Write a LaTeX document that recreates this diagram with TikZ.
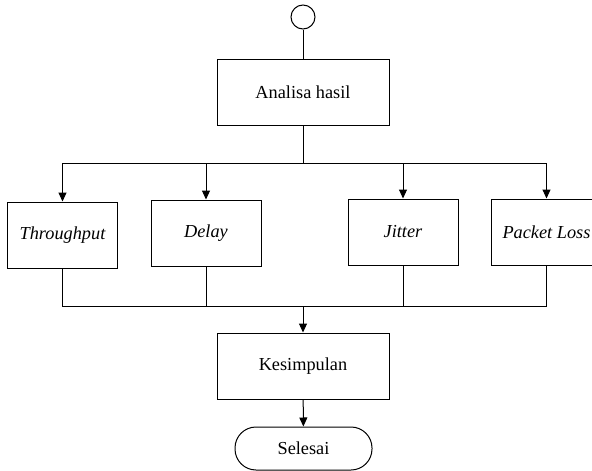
\documentclass[tikz,border=0pt]{standalone}
\usepackage{fontspec}
\setmainfont{Liberation Serif}
\usetikzlibrary{arrows.meta}
\tikzset{
  box/.style={draw, line width=1pt, minimum width=110pt, minimum height=66pt, inner sep=0pt, font=\fontsize{18.3}{22}\selectfont},
  bigbox/.style={box, minimum width=172pt},
  term/.style={draw, line width=1pt, rounded corners=21pt, minimum width=137pt, minimum height=43pt, inner sep=0pt, font=\fontsize{18.3}{22}\selectfont},
  startc/.style={draw, circle, line width=1pt, minimum size=24pt, inner sep=0pt},
  conn/.style={line width=1pt},
  arr/.style={conn, -{Triangle[length=9pt,width=8pt]}}
}
\begin{document}
\begin{tikzpicture}[x=1pt,y=-1pt]
\useasboundingbox (0,0) rectangle (592,471);
\clip (0,0) rectangle (592,471);
\node[startc] (start) at (303,17) {};
\node[bigbox] (ana) at (303,92) {Analisa hasil};
\node[box] (thr) at (62.5,235) {\itshape Throughput};
\node[box] (del) at (206,233) {\itshape Delay};
\node[box] (jit) at (403,232) {\itshape Jitter};
\node[box] (pkt) at (546.5,232) {\itshape Packet Loss};
\node[bigbox] (kes) at (303,366) {Kesimpulan};
\node[term] (sel) at (303.5,448.5) {Selesai};
\coordinate (tm) at (303,163);
\coordinate (bm) at (303,306);
\draw[conn] (start) -- (ana);
\draw[conn] (ana.south) -- (tm);
\draw[conn] (thr.north |- tm) -- (pkt.north |- tm);
\draw[arr] (thr.north |- tm) -- (thr.north);
\draw[arr] (del.north |- tm) -- (del.north);
\draw[arr] (jit.north |- tm) -- (jit.north);
\draw[arr] (pkt.north |- tm) -- (pkt.north);
\draw[conn] (thr.south) -- (thr.south |- bm) -- (pkt.south |- bm) -- (pkt.south);
\draw[conn] (del.south) -- (del.south |- bm);
\draw[conn] (jit.south) -- (jit.south |- bm);
\draw[arr] (bm) -- (kes);
\draw[arr] (kes) -- (sel);
\end{tikzpicture}
\end{document}
